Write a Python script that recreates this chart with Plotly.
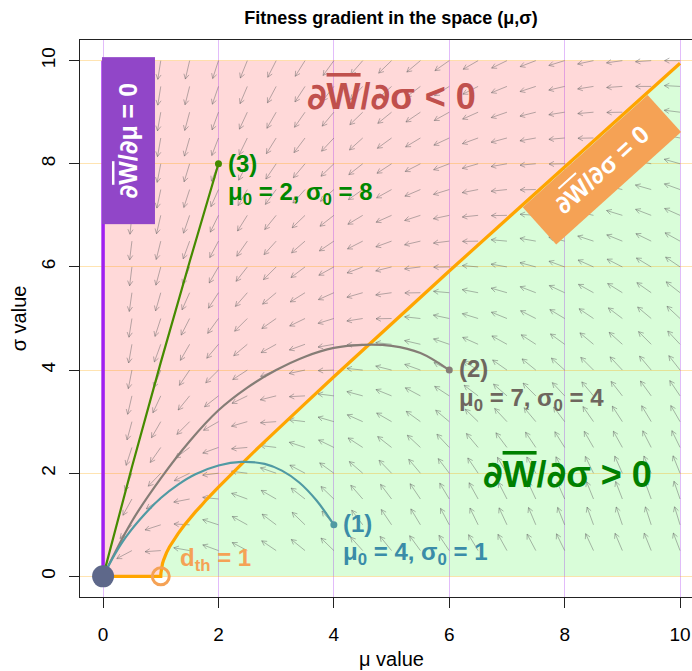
import math
import plotly.graph_objects as go

# ---- chart values -------------------------------------------------------
# anchor points of the gradient arrows
mu_grid = [0.5, 1.0, 1.5, 2.0, 2.5, 3.0, 3.5, 4.0, 4.5, 5.0,
           5.5, 6.0, 6.5, 7.0, 7.5, 8.0, 8.5, 9.0, 9.5, 10.0]
sigma_grid = [0.5, 1.0, 1.5, 2.0, 2.5, 3.0, 3.5, 4.0, 4.5, 5.0,
              5.5, 6.0, 6.5, 7.0, 7.5, 8.0, 8.5, 9.0, 9.5, 10.0]

# arrow tilt in degrees above the leftward horizontal (negative = pointing down)
# one row per sigma level (sigma = 0.5 first), one column per mu level
arrow_tilt = [
    [-28, -4, 10, 20, 28, 34, 39, 44, 48, 51, 54, 56, 59, 61, 62, 64, 65, 67, 68, 69],
    [-49, -18, 3, 18, 29, 37, 44, 49, 53, 56, 59, 62, 64, 65, 67, 68, 70, 71, 72, 73],
    [-61, -34, -11, 6, 20, 30, 38, 44, 49, 53, 56, 59, 61, 63, 65, 66, 68, 69, 70, 71],
    [-68, -46, -26, -7, 7, 19, 28, 36, 41, 46, 50, 53, 56, 59, 61, 62, 64, 66, 67, 68],
    [-72, -55, -37, -20, -5, 7, 18, 26, 33, 38, 43, 47, 50, 53, 56, 58, 60, 61, 63, 64],
    [-75, -60, -45, -30, -16, -4, 7, 16, 24, 30, 36, 40, 44, 47, 50, 53, 55, 57, 59, 60],
    [-77, -65, -51, -38, -26, -14, -3, 7, 15, 22, 28, 33, 37, 41, 45, 47, 50, 52, 54, 56],
    [-79, -68, -56, -45, -33, -22, -12, -2, 6, 14, 20, 26, 31, 35, 39, 42, 45, 47, 50, 52],
    [-80, -70, -60, -50, -40, -29, -20, -10, -2, 6, 13, 19, 24, 29, 33, 36, 40, 42, 45, 47],
    [-81, -72, -63, -54, -45, -35, -26, -17, -9, -1, 6, 12, 17, 22, 27, 31, 34, 37, 40, 43],
    [-82, -74, -66, -57, -49, -40, -32, -24, -16, -8, -1, 5, 11, 16, 21, 25, 29, 32, 35, 38],
    [-83, -75, -68, -60, -52, -45, -37, -29, -21, -14, -7, -1, 5, 10, 15, 20, 24, 27, 31, 34],
    [-83, -76, -70, -62, -55, -48, -41, -34, -27, -20, -13, -7, -1, 5, 10, 14, 18, 22, 26, 29],
    [-84, -77, -71, -64, -58, -51, -44, -38, -31, -24, -18, -12, -6, -1, 4, 9, 13, 17, 21, 24],
    [-84, -78, -72, -66, -60, -54, -48, -41, -35, -29, -23, -17, -11, -6, -1, 4, 9, 13, 16, 20],
    [-84, -79, -73, -68, -62, -56, -50, -44, -38, -33, -27, -21, -16, -10, -5, -1, 4, 8, 12, 16],
    [-85, -80, -74, -69, -64, -58, -53, -47, -42, -36, -31, -25, -20, -15, -10, -5, -1, 4, 8, 11],
    [-85, -80, -75, -70, -65, -60, -55, -50, -44, -39, -34, -29, -24, -19, -14, -9, -5, -1, 4, 7],
    [-85, -81, -76, -71, -67, -62, -57, -52, -47, -42, -37, -32, -27, -22, -18, -13, -9, -4, 0, 3],
    [-86, -81, -77, -72, -68, -63, -58, -54, -49, -44, -40, -35, -30, -26, -21, -17, -12, -8, -4, 0],
]

# curve where dW/dsigma = 0 (runs along sigma = 0 up to d_th, then rises)
boundary_mu = [0.0, 1.0, 1.002, 1.005, 1.01, 1.02, 1.03, 1.05, 1.07, 1.1, 1.15, 1.2,
               1.25, 1.3, 1.4, 1.5, 1.6, 1.7, 1.8, 2.0, 2.25, 2.5, 2.75, 3.0, 3.5,
               4.0, 5.0, 6.0, 7.0, 8.0, 9.0, 10.0]
boundary_sigma = [0.0, 0.0, 0.063, 0.1, 0.14, 0.2, 0.25, 0.32, 0.38, 0.46, 0.57, 0.66,
                  0.75, 0.83, 0.98, 1.12, 1.25, 1.37, 1.5, 1.73, 2.02, 2.29, 2.56, 2.83, 3.35,
                  3.87, 4.9, 5.92, 6.93, 7.94, 8.94, 9.95]

# trajectories towards the optimum (0, 0)
traj1_mu = [0.0, 0.2, 0.4, 0.7, 1.0, 1.3, 1.6, 2.0, 2.4, 2.8, 3.1, 3.4, 3.7, 4.0]
traj1_sigma = [0.0, 0.42, 0.77, 1.18, 1.52, 1.78, 1.98, 2.15, 2.22, 2.18, 2.05, 1.82, 1.47, 1.0]
traj2_mu = [0.0, 0.5, 1.0, 1.5, 2.0, 2.5, 3.0, 3.5, 4.0, 4.5, 5.0, 5.5, 6.0]
traj2_sigma = [0.0, 1.07, 1.9, 2.62, 3.22, 3.66, 4.0, 4.26, 4.43, 4.49, 4.47, 4.33, 4.0]
traj3_mu = [0.0, 0.5, 1.0, 1.5, 2.0]
traj3_sigma = [0.0, 2.12, 4.15, 6.1, 8.0]

traj_names = ["(1)", "(2)", "(3)"]
traj_texts = ["μ<sub>0</sub> = 4, σ<sub>0</sub> = 1",
              "μ<sub>0</sub> = 7, σ<sub>0</sub> = 4",
              "μ<sub>0</sub> = 2, σ<sub>0</sub> = 8"]

d_th = 1.0
optimum = (0.0, 0.0)
axis_ticks = [0, 2, 4, 6, 8, 10]
space_max = 10.0

# ---- styling ------------------------------------------------------------
FONT = "Liberation Sans, Arial, Helvetica, sans-serif"
W = 692
H = 671
M_L, M_R, M_T, M_B = 80, 0, 40, 74
X_RANGE = [-0.4, 10.207]
Y_RANGE = [-0.4, 10.4]
PX_X = (W - M_L - M_R) / (X_RANGE[1] - X_RANGE[0])
PX_Y = (H - M_T - M_B) / (Y_RANGE[1] - Y_RANGE[0])

PINK = "rgb(255,217,217)"
GREEN = "rgb(217,253,217)"
ORANGE = "rgb(255,165,0)"
PURPLE = "rgb(160,32,240)"
SANDY = "rgb(245,162,85)"
C1_LINE, C1_TEXT = "rgb(80,154,163)", "rgb(58,140,168)"
C2_LINE, C2_TEXT = "rgb(133,125,118)", "rgb(110,102,94)"
C3_LINE, C3_TEXT = "rgb(69,139,0)", "rgb(0,135,0)"

fig = go.Figure()

# ---- background regions (below the grid lines) --------------------------
def path_from(xs, ys):
    pts = " L ".join(f"{x},{y}" for x, y in zip(xs, ys))
    return "M " + pts + " Z"

upper_x = boundary_mu + [space_max, 0.0]
upper_y = boundary_sigma + [space_max, space_max]
lower_x = boundary_mu[1:] + [space_max]
lower_y = boundary_sigma[1:] + [0.0]

fig.add_shape(type="path", path=path_from(upper_x, upper_y), xref="x", yref="y",
              fillcolor=PINK, line=dict(width=0), layer="below")
fig.add_shape(type="path", path=path_from(lower_x, lower_y), xref="x", yref="y",
              fillcolor=GREEN, line=dict(width=0), layer="below")

# ---- gradient arrows -----------------------------------------------------
ax_x, ax_y = [], []
barb_len, barb_ang = 5.5, math.radians(28)
for j, s in enumerate(sigma_grid):
    for i, m in enumerate(mu_grid):
        t = math.radians(arrow_tilt[j][i])
        ux, uy = -math.cos(t), math.sin(t)          # screen direction (y up)
        L = 15.5 + 3.5 * abs(math.sin(t))
        hx, hy = m + L * ux / PX_X, s + L * uy / PX_Y
        b = []
        for sgn in (1, -1):
            ca, sa = math.cos(sgn * barb_ang), math.sin(sgn * barb_ang)
            bx = -(ux * ca - uy * sa)
            by = -(ux * sa + uy * ca)
            b.append((hx + barb_len * bx / PX_X, hy + barb_len * by / PX_Y))
        ax_x += [m, hx, None, b[0][0], hx, b[1][0], None]
        ax_y += [s, hy, None, b[0][1], hy, b[1][1], None]

fig.add_trace(go.Scatter(x=ax_x, y=ax_y, mode="lines",
                         line=dict(color="rgba(100,100,100,0.48)", width=1),
                         hoverinfo="skip"))

# ---- dW/dsigma = 0 boundary and dW/dmu = 0 line --------------------------
fig.add_trace(go.Scatter(x=boundary_mu, y=boundary_sigma, mode="lines",
                         line=dict(color=ORANGE, width=3.2), hoverinfo="skip"))
fig.add_trace(go.Scatter(x=[optimum[0], optimum[0]], y=[0, space_max], mode="lines",
                         line=dict(color=PURPLE, width=3.5), hoverinfo="skip"))

# ---- trajectories --------------------------------------------------------
for xs, ys, col in [(traj3_mu, traj3_sigma, C3_LINE),
                    (traj2_mu, traj2_sigma, C2_LINE),
                    (traj1_mu, traj1_sigma, C1_LINE)]:
    fig.add_trace(go.Scatter(x=xs, y=ys, mode="lines",
                             line=dict(color=col, width=2.2, shape="spline", smoothing=1.0),
                             hoverinfo="skip"))
    fig.add_trace(go.Scatter(x=[xs[-1]], y=[ys[-1]], mode="markers",
                             marker=dict(color=col, size=7), hoverinfo="skip"))

# threshold ring and optimum dot
fig.add_trace(go.Scatter(x=[d_th], y=[0], mode="markers",
                         marker=dict(symbol="circle-open", size=17, color=SANDY,
                                     line=dict(width=3, color=SANDY)),
                         cliponaxis=False, hoverinfo="skip"))
fig.add_trace(go.Scatter(x=[optimum[0]], y=[optimum[1]], mode="markers",
                         marker=dict(size=22, color="rgb(94,104,138)"),
                         cliponaxis=False, hoverinfo="skip"))

# ---- text ----------------------------------------------------------------
DEL = "<span style='font-family:DejaVu Sans'>∂</span>"
WBAR = "<span style='text-decoration:overline'>W</span>"


def deriv(var, rel):
    return f"{DEL}{WBAR}/{DEL}{var} {rel} 0"


ann = []


def label(x, y, text, color, size, xanchor="left"):
    ann.append(dict(x=x, y=y, xref="x", yref="y", text=f"<b>{text}</b>",
                    showarrow=False, xanchor=xanchor, yanchor="middle",
                    font=dict(family=FONT, size=size, color=color)))


label(5.0, 9.3, deriv("σ", "&lt;"), "rgb(192,80,77)", 36, xanchor="center")
label(8.05, 1.98, deriv("σ", "&gt;"), "rgb(0,128,0)", 36, xanchor="center")

label(4.13, 1.03, traj_names[0], C1_TEXT, 24)
label(4.13, 0.45, traj_texts[0], C1_TEXT, 24)
label(6.13, 4.03, traj_names[1], C2_TEXT, 24)
label(6.13, 3.43, traj_texts[1], C2_TEXT, 24)
label(2.13, 8.0, traj_names[2], C3_TEXT, 24)
label(2.13, 7.42, traj_texts[2], C3_TEXT, 24)
label(1.30, 0.33, "d<sub>th</sub> = 1", SANDY, 24)

# rotated boxed labels
ann.append(dict(x=0.433, y=8.44, xref="x", yref="y",
                text=f"<b>{deriv('μ', '=')}</b>", showarrow=False, textangle=-90,
                xanchor="center", yanchor="middle", width=167, height=53,
                borderpad=0, borderwidth=0, bgcolor="rgb(145,70,200)",
                font=dict(family=FONT, size=25, color="white")))
ann.append(dict(x=8.64, y=7.88, xref="x", yref="y",
                text=f"<b>{deriv('σ', '=')}</b>", showarrow=False, textangle=-42,
                xanchor="center", yanchor="middle", width=150, height=32,
                borderpad=9, borderwidth=0, bgcolor=SANDY,
                font=dict(family=FONT, size=25, color="white")))

# axis titles
ann.append(dict(x=(391 - M_L) / (W - M_L - M_R), y=-0.111, xref="paper", yref="paper",
                text="μ value", showarrow=False, xanchor="center", yanchor="middle",
                font=dict(family=FONT, size=20, color="black")))
ann.append(dict(x=-0.1, y=0.5, xref="paper", yref="paper",
                text="σ value", showarrow=False, textangle=-90,
                xanchor="center", yanchor="middle",
                font=dict(family=FONT, size=20, color="black")))

axis_common = dict(tickvals=axis_ticks, ticktext=[str(v) for v in axis_ticks],
                   showgrid=True, gridwidth=1, zeroline=False,
                   showline=True, linecolor="#222", linewidth=1,
                   ticks="outside", ticklen=10, tickwidth=1, tickcolor="#222",
                   tickfont=dict(family=FONT, size=19, color="black"),
                   fixedrange=True)

fig.update_layout(
    width=W, height=H,
    margin=dict(l=M_L, r=M_R, t=M_T, b=M_B, pad=0),
    paper_bgcolor="white", plot_bgcolor="white", showlegend=False,
    font=dict(family=FONT, color="black"),
    title=dict(text="<b>Fitness gradient in the space (μ,σ)</b>", x=391 / W, xanchor="center",
               y=1 - 18 / H, yanchor="middle", yref="container",
               font=dict(family=FONT, size=18, color="black")),
    xaxis=dict(range=X_RANGE, gridcolor="rgba(160,32,240,0.3)", mirror=True,
               ticklabelstandoff=10, **axis_common),
    yaxis=dict(range=Y_RANGE, gridcolor="rgba(255,165,0,0.3)", mirror=False,
               tickangle=-90, ticklabelstandoff=6, **axis_common),
    annotations=ann,
)

fig.write_html("out.html")
